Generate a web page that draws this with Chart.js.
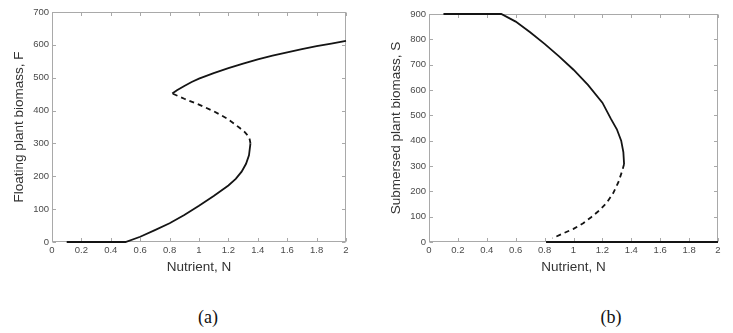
<!DOCTYPE html>
<html>
<head>
<meta charset="utf-8">
<script src="https://cdn.jsdelivr.net/npm/chart.js@4/dist/chart.umd.min.js"></script>
<style>
  html, body { margin: 0; padding: 0; background: #fff; }
  body { width: 733px; height: 333px; position: relative; overflow: hidden; }
  canvas { position: absolute; top: 0; }
  .lab { position: absolute; font-family: "Liberation Serif", "Times New Roman", serif; font-size: 18px; color: #111; transform: translate(-50%, -50%); }
</style>
</head>
<body>
<canvas id="ca" width="366" height="300" style="left:0px"></canvas>
<canvas id="cb" width="363" height="300" style="left:370px"></canvas>
<div class="lab" style="left:208px; top:317px;">(a)</div>
<div class="lab" style="left:611px; top:317px;">(b)</div>
<script>
// ---- shared axis ticks ----
const xTicks = [0, 0.2, 0.4, 0.6, 0.8, 1, 1.2, 1.4, 1.6, 1.8, 2];
const xTickLabels = ["0", "0.2", "0.4", "0.6", "0.8", "1", "1.2", "1.4", "1.6", "1.8", "2"];
const yTicksF = [0, 100, 200, 300, 400, 500, 600, 700];
const yTicksS = [0, 100, 200, 300, 400, 500, 600, 700, 800, 900];

// ---- panel (a): floating plant biomass F ----
const nFLower = [0.1, 0.5, 0.6, 0.7, 0.8, 0.9, 1.0, 1.1, 1.2, 1.25, 1.29, 1.32, 1.34, 1.35];
const fLower  = [0, 0, 16, 36, 57, 82, 110, 140, 172, 192, 214, 238, 264, 300];
const nFMid   = [1.35, 1.345, 1.336, 1.31, 1.28, 1.24, 1.19, 1.1, 1.0, 0.9, 0.818];
const fMid    = [300, 312, 322, 335, 346, 360, 376, 398, 418, 436, 452];
const nFUpper = [0.818, 0.85, 0.9, 0.95, 1.0, 1.1, 1.2, 1.3, 1.4, 1.5, 1.6, 1.7, 1.8, 1.9, 2.0];
const fUpper  = [452, 462, 475, 487, 497, 514, 529, 543, 556, 567, 577, 587, 596, 604, 612];

// ---- panel (b): submersed plant biomass S ----
const nSUpper = [0.1, 0.5, 0.6, 0.7, 0.8, 0.9, 1.0, 1.1, 1.2, 1.26, 1.3, 1.33, 1.345, 1.35];
const sUpper  = [900, 900, 870, 828, 782, 733, 680, 620, 550, 485, 445, 400, 355, 308];
const nSMid   = [1.35, 1.339, 1.31, 1.274, 1.23, 1.182, 1.12, 1.067, 1.0, 0.928, 0.855];
const sMid    = [308, 284, 235, 192, 155, 126, 97, 74, 52, 34, 15];
const nSLower = [0.81, 2.0];
const sLower  = [0, 0];

const LINE = '#141414';
const AXIS = '#a9a9a9';
const TICKCOL = '#4a4a4a';
const TITLECOL = '#333';
const SANS = '"Liberation Sans", Arial, Helvetica, sans-serif';

function pts(xs, ys) { return xs.map((v, i) => ({ x: v, y: ys[i] })); }
function ds(xs, ys, dashed) {
  return { data: pts(xs, ys), showLine: true, borderColor: LINE, borderWidth: 1.8,
           pointRadius: 0, borderDash: dashed ? [5, 4] : [], tension: 0, clip: false };
}

const boxPlugin = {
  id: 'matlabBox',
  beforeDatasetsDraw(chart) {
    const { ctx, chartArea: { left, right, top, bottom }, scales: { x, y } } = chart;
    ctx.save();
    ctx.strokeStyle = AXIS;
    ctx.lineWidth = 1;
    const L = Math.round(left) + 0.5, R = Math.round(right) - 0.5;
    const T = Math.round(top) + 0.5, B = Math.round(bottom) - 0.5;
    ctx.strokeRect(L, T, R - L, B - T);
    const tl = 3.5;
    ctx.beginPath();
    x.ticks.forEach(t => {
      const px = Math.round(x.getPixelForValue(t.value)) + 0.5;
      ctx.moveTo(px, B); ctx.lineTo(px, B - tl);
      ctx.moveTo(px, T); ctx.lineTo(px, T + tl);
    });
    y.ticks.forEach(t => {
      const py = Math.round(y.getPixelForValue(t.value)) + 0.5;
      ctx.moveTo(L, py); ctx.lineTo(L + tl, py);
      ctx.moveTo(R, py); ctx.lineTo(R - tl, py);
    });
    ctx.stroke();
    ctx.restore();
  }
};

function makeChart(id, datasets, yMax, yTicks, yTitle, cfg) {
  return new Chart(document.getElementById(id), {
    type: 'scatter',
    data: { datasets },
    plugins: [boxPlugin],
    options: {
      responsive: false, animation: false, devicePixelRatio: 1,
      layout: { padding: { left: 0, right: cfg.padRight, top: cfg.padTop, bottom: 0 } },
      plugins: { legend: { display: false }, tooltip: { enabled: false } },
      scales: {
        x: {
          type: 'linear', min: 0, max: 2,
          afterBuildTicks: s => { s.ticks = xTicks.map(v => ({ value: v })); },
          afterFit: s => { s.height = 58; },
          grid: { display: false, drawTicks: false },
          border: { display: false },
          ticks: { autoSkip: false, maxRotation: 0, padding: 3, color: TICKCOL,
                   font: { family: SANS, size: 9.5 },
                   callback: (v, i) => xTickLabels[i] },
          title: { display: true, text: 'Nutrient, N', color: TITLECOL,
                   font: { family: SANS, size: 13.5 }, padding: { top: 0, bottom: 25 } }
        },
        y: {
          type: 'linear', min: 0, max: yMax,
          afterBuildTicks: s => { s.ticks = yTicks.map(v => ({ value: v })); },
          afterFit: s => { s.width = cfg.yWidth; },
          grid: { display: false, drawTicks: false },
          border: { display: false },
          ticks: { autoSkip: false, padding: 3, color: TICKCOL,
                   font: { family: SANS, size: 9.5 },
                   callback: v => String(v) },
          title: { display: true, text: yTitle, color: TITLECOL,
                   font: { family: SANS, size: 13.5 }, padding: { top: cfg.yTitlePad, bottom: 0 } }
        }
      }
    }
  });
}

makeChart('ca', [ds(nFLower, fLower, false), ds(nFMid, fMid, true), ds(nFUpper, fUpper, false)],
  700, yTicksF, 'Floating plant biomass, F', { padRight: 20, padTop: 12, yWidth: 52, yTitlePad: 11 });

makeChart('cb', [ds(nSUpper, sUpper, false), ds(nSMid, sMid, true), ds(nSLower, sLower, false)],
  900, yTicksS, 'Submersed plant biomass, S', { padRight: 15, padTop: 14, yWidth: 59, yTitlePad: 18 });
</script>
</body>
</html>
